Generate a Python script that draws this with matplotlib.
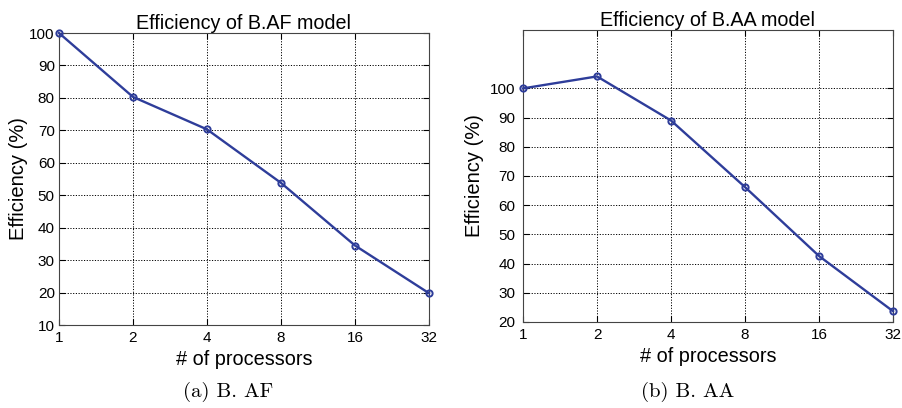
import numpy as np
import matplotlib
matplotlib.use('Agg')
import matplotlib.pyplot as plt

# data
procs = [1, 2, 4, 8, 16, 32]
eff_af = [100, 80.3, 70.3, 53.8, 34.5, 19.8]
eff_aa = [100, 104.1, 89.0, 66.2, 42.6, 23.7]
yticks_af = [10, 20, 30, 40, 50, 60, 70, 80, 90, 100]
yticks_aa = [20, 30, 40, 50, 60, 70, 80, 90, 100]

plt.rcParams['font.family'] = ['Liberation Sans', 'DejaVu Sans']
line_col = '#2e3d9a'

fig = plt.figure(figsize=(9.03, 4.08), dpi=100)
ax1 = fig.add_axes([0.0653, 0.2034, 0.4098, 0.7157])
ax2 = fig.add_axes([0.5792, 0.2108, 0.4097, 0.7157])

def style(ax, y, title, yticks, ylim, ypad, ylabpad):
    ax.plot(procs, y, color=line_col, lw=1.7, marker='o', ms=4.5,
            mfc='none', mec=line_col, mew=1.4, clip_on=False, zorder=3)
    ax.set_xscale('log', base=2)
    ax.set_xlim(1, 32)
    ax.set_xticks(procs)
    ax.set_xticklabels([str(p) for p in procs])
    ax.minorticks_off()
    ax.set_ylim(*ylim)
    ax.set_yticks(yticks)
    ax.grid(True, color='black', ls=(0, (1.2, 1.6)), lw=0.7)
    ax.tick_params(direction='in', labelsize=11, length=4,
                   top=True, right=True)
    ax.tick_params(axis='x', pad=4)
    ax.tick_params(axis='y', pad=ypad)
    for s in ax.spines.values():
        s.set_color('#444444')
        s.set_linewidth(0.8)
    ax.set_title(title, fontsize=14.2, pad=3)
    ax.set_xlabel('# of processors', fontsize=14.3, labelpad=4)
    ax.set_ylabel('Efficiency (%)', fontsize=14.5, labelpad=ylabpad)

style(ax1, eff_af, 'Efficiency of B.AF model', yticks_af, (10, 100), 3, 1)
style(ax2, eff_aa, 'Efficiency of B.AA model', yticks_aa, (20, 120), 5.5, 4)

fig.text(0.253, 0.027, '(a) B. AF', family=['cmr10', 'DejaVu Serif'],
         fontsize=15, ha='center', va='baseline')
fig.text(0.761, 0.027, '(b) B. AA', family=['cmr10', 'DejaVu Serif'],
         fontsize=15, ha='center', va='baseline')

fig.savefig('out.png', dpi=100)
